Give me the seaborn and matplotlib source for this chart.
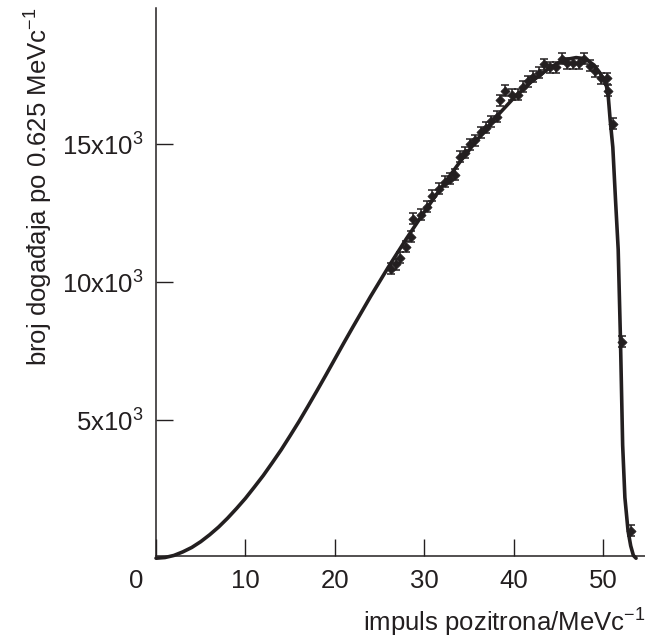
import matplotlib
matplotlib.use('Agg')
import matplotlib.pyplot as plt
import matplotlib.transforms as mtransforms
from matplotlib import font_manager
import seaborn as sns
import pandas as pd

# measured positron momenta (MeV/c) and counts per 0.625 MeV/c bin
data_p = [26.3, 26.8, 27.3, 28.0, 28.5, 28.7, 29.6, 30.3, 30.9, 31.6, 32.3,
          32.9, 33.5, 34.0, 34.6, 35.1, 35.7, 36.3, 36.9, 37.5, 38.1,
          38.5, 39.0, 39.8, 40.5, 41.1, 41.6, 42.2, 42.8, 43.4, 44.1,
          44.7, 45.4, 46.0, 46.6, 47.3, 47.9, 48.5, 49.1, 49.8, 50.4,
          50.6, 51.1, 52.1, 53.1]
data_n = [10500, 10650, 10900, 11300, 11650, 12300, 12450, 12750, 13150, 13400, 13650,
          13750, 13900, 14550, 14700, 15000, 15150, 15450, 15600, 15850, 16000,
          16600, 16950, 16800, 16800, 17100, 17300, 17450, 17600, 17900, 17800,
          17800, 18100, 17950, 17950, 17950, 18100, 17850, 17650, 17400, 17400,
          16950, 15750, 7850, 1000]
data_err = [200] * len(data_p)

# theoretical spectrum
curve_p = [0, 1, 2, 3, 4, 5, 6, 7, 8, 9, 10, 11, 12, 13, 14, 15, 16, 17, 18,
           19, 20, 21, 22, 24, 26, 28, 30, 32, 34, 36, 38, 40, 42, 44, 45,
           46, 47, 48, 49, 49.6, 50.1, 50.4, 50.6, 50.8, 51.1, 51.4, 51.7,
           51.95, 52.2, 52.45, 52.8, 53.1, 53.4, 53.7]
curve_n = [0, 25, 100, 230, 390, 600, 850, 1130, 1450, 1800, 2170, 2580, 3000,
           3460, 3930, 4440, 4960, 5510, 6070, 6640, 7220, 7800, 8370, 9490,
           10560, 11580, 12550, 13480, 14370, 15200, 15980, 16680, 17280,
           17770, 17960, 18090, 18150, 18110, 17880, 17620, 17350, 17100,
           16700, 15900, 14900, 13000, 11200, 8000, 4100, 2200, 1000, 450,
           100, 0]

x_ticks = [0, 10, 20, 30, 40, 50]
x_labels = ['0', '10', '20', '30', '40', '50']
y_ticks = [5000, 10000, 15000]
y_labels = ['5x10$^3$', '10x10$^3$', '15x10$^3$']

ink = '#231f20'

sns.set_style('ticks')
names = {f.name for f in font_manager.fontManager.ttflist}
if 'Liberation Sans Narrow' in names:
    fam, fs = 'Liberation Sans Narrow', 21
else:
    fam, fs = 'Liberation Sans', 18.5
plt.rcParams['font.family'] = [fam, 'DejaVu Sans']
plt.rcParams['mathtext.fontset'] = 'custom'
plt.rcParams['mathtext.rm'] = fam
plt.rcParams['mathtext.it'] = fam
plt.rcParams['mathtext.default'] = 'rm'

fig = plt.figure(figsize=(6.45, 6.41), dpi=100)
ax = fig.add_axes([0.2419, 0.1326, 0.7581, 0.855])

curve = pd.DataFrame({'p': curve_p, 'n': curve_n})
pts = pd.DataFrame({'p': data_p, 'n': data_n})

sns.lineplot(data=curve, x='p', y='n', ax=ax, color=ink, linewidth=2.6,
             zorder=3, clip_on=False)
ax.errorbar(data_p, data_n, yerr=data_err, fmt='none', ecolor=ink,
            elinewidth=1.1, capsize=3, capthick=1.1, zorder=4)
sns.scatterplot(data=pts, x='p', y='n', ax=ax, marker='D', s=22, color=ink,
                edgecolor=ink, linewidth=0.5, zorder=5)

ax.set_xlim(0, 54.7)
ax.set_ylim(80, 19950)
ax.set_xticks(x_ticks)
ax.set_xticklabels(x_labels)
ax.set_yticks(y_ticks)
ax.set_yticklabels(y_labels)
ax.tick_params(direction='in', length=12.5, width=1.0, colors=ink,
               labelsize=fs, labelcolor=ink)
ax.tick_params(axis='x', pad=9)
ax.tick_params(axis='y', pad=9)

# origin label sits left of the axis corner
lab0 = ax.get_xticklabels()[0]
lab0.set_transform(lab0.get_transform() +
                   mtransforms.ScaledTranslation(-0.2, 0, fig.dpi_scale_trans))

ax.set_xlabel('impuls pozitrona/MeVc$^{-1}$', fontsize=fs, color=ink,
              loc='right', labelpad=10)
ax.set_ylabel('broj događaja po 0.625 MeVc$^{-1}$', fontsize=fs, color=ink,
              loc='top', labelpad=5)

sns.despine(ax=ax)
for s in ['left', 'bottom']:
    ax.spines[s].set_linewidth(1.1)
    ax.spines[s].set_color(ink)

fig.savefig('out.png', dpi=100)
